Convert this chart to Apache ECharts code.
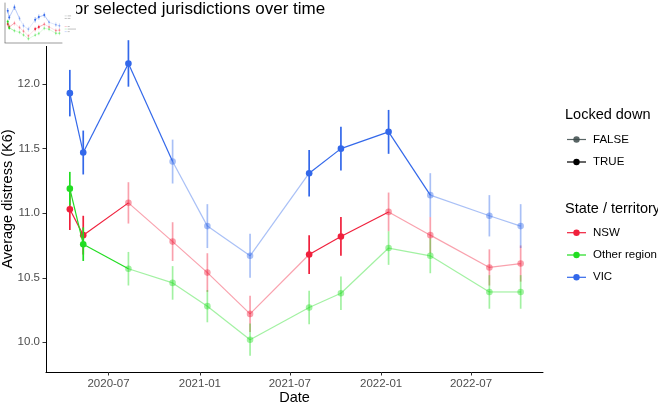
<!DOCTYPE html>
<html>
<head>
<meta charset="utf-8">
<script src="https://cdn.jsdelivr.net/npm/echarts@6/dist/echarts.min.js"></script>
<style>
  html, body { margin: 0; padding: 0; background: #fff; }
  #chart { width: 658px; height: 404px; }
</style>
</head>
<body>
<div id="chart"></div>
<script>
// survey waves
const dates = ['2020-04-14', '2020-05-11', '2020-08-10', '2020-11-07', '2021-01-16', '2021-04-12',
  '2021-08-09', '2021-10-12', '2022-01-16', '2022-04-10', '2022-08-07', '2022-10-09'];

// average K6 and half-width of the error bar
const nswValues = [11.03, 10.83, 11.08, 10.78, 10.54, 10.22, 10.68, 10.82, 11.01, 10.83, 10.58, 10.61];
const nswErr = [0.16, 0.15, 0.16, 0.15, 0.15, 0.14, 0.15, 0.15, 0.15, 0.14, 0.14, 0.14];
const otherValues = [11.19, 10.76, 10.57, 10.46, 10.28, 10.02, 10.27, 10.38, 10.73, 10.67, 10.39, 10.39];
const otherErr = [0.13, 0.13, 0.13, 0.13, 0.125, 0.125, 0.13, 0.13, 0.13, 0.135, 0.13, 0.13];
const vicValues = [11.93, 11.47, 12.16, 11.40, 10.90, 10.67, 11.31, 11.50, 11.63, 11.14, 10.98, 10.90];
const vicErr = [0.18, 0.17, 0.18, 0.17, 0.17, 0.17, 0.18, 0.17, 0.17, 0.17, 0.16, 0.17];

// locked down at that wave (1 = TRUE)
const nswLocked = [1, 1, 0, 0, 0, 0, 1, 1, 0, 0, 0, 0];
const otherLocked = [1, 1, 0, 0, 0, 0, 0, 0, 0, 0, 0, 0];
const vicLocked = [1, 1, 1, 0, 0, 0, 1, 1, 1, 0, 0, 0];

const xTicks = ['2020-07-01', '2021-01-01', '2021-07-01', '2022-01-01', '2022-07-01'];
const yTicks = [10.0, 10.5, 11.0, 11.5, 12.0];

const regions = ['NSW', 'Other region', 'VIC'];
const lockLabels = ['FALSE', 'TRUE'];

const colors = { 'NSW': '#F0203C', 'Other region': '#22DD22', 'VIC': '#3368EA' };
const lightAlpha = 0.42;
const font = '"Liberation Sans", Arial, sans-serif';

function ts(d) { return +new Date(d); }

const xMin = ts('2020-02-26');
const xMax = ts('2022-11-23');
const yMin = 9.77, yMax = 12.45;

function makeRenderer(values, errs, locks, color, s) {
  return function (params, api) {
    const i = params.dataIndex;
    const t = ts(dates[i]);
    const p = api.coord([t, values[i]]);
    const lo = api.coord([t, values[i] - errs[i]]);
    const hi = api.coord([t, values[i] + errs[i]]);
    const op = locks[i] ? 1 : lightAlpha;
    const children = [];
    if (i < dates.length - 1) {
      const q = api.coord([ts(dates[i + 1]), values[i + 1]]);
      children.push({
        type: 'line',
        shape: { x1: p[0], y1: p[1], x2: q[0], y2: q[1] },
        style: { stroke: color, lineWidth: 1.2 * s, opacity: op }
      });
    }
    children.push({
      type: 'line',
      shape: { x1: lo[0], y1: lo[1], x2: hi[0], y2: hi[1] },
      style: { stroke: color, lineWidth: 1.7 * s, opacity: op }
    });
    children.push({
      type: 'circle',
      shape: { cx: p[0], cy: p[1], r: 3.3 * s },
      style: { fill: color, opacity: op }
    });
    return { type: 'group', children: children };
  };
}

const regionData = {
  'NSW': [nswValues, nswErr, nswLocked],
  'Other region': [otherValues, otherErr, otherLocked],
  'VIC': [vicValues, vicErr, vicLocked]
};

const series = [];
regions.forEach(function (name) {
  const r = regionData[name];
  const data = dates.map(function (d, i) { return [ts(d), r[0][i]]; });
  series.push({
    name: name, type: 'custom', xAxisIndex: 0, yAxisIndex: 0,
    renderItem: makeRenderer(r[0], r[1], r[2], colors[name], 1),
    encode: { x: 0, y: 1 }, data: data, z: 2
  });
  // thumbnail copy in the corner
  series.push({
    name: name + ' (mini)', type: 'custom', xAxisIndex: 1, yAxisIndex: 1,
    renderItem: makeRenderer(r[0], r[1], r[2], colors[name], 0.3),
    encode: { x: 0, y: 1 }, data: data, z: 10, silent: true
  });
});

// legend drawn as graphic elements
const graphics = [
  { type: 'rect', shape: { x: 0, y: 0, width: 76, height: 46 }, style: { fill: '#fff' }, z: 9 }
];
function legendTitle(text, y) {
  graphics.push({ type: 'text', x: 565, y: y, style: { text: text, font: '14.5px ' + font, fill: '#000', verticalAlign: 'middle' } });
}
function legendItem(text, y, color, op) {
  graphics.push({ type: 'line', shape: { x1: 567, y1: y, x2: 586, y2: y }, style: { stroke: color, lineWidth: 1.2, opacity: op } });
  graphics.push({ type: 'circle', shape: { cx: 576.5, cy: y, r: 3.2 }, style: { fill: color, opacity: op } });
  graphics.push({ type: 'text', x: 593, y: y, style: { text: text, font: '11.5px ' + font, fill: '#000', verticalAlign: 'middle' } });
  // same key, shrunk, in the thumbnail
  const k = 0.114;
  graphics.push({ type: 'line', shape: { x1: 567 * k, y1: y * k, x2: 586 * k, y2: y * k }, style: { stroke: color, lineWidth: 0.4, opacity: op * 0.6 }, z: 10 });
  graphics.push({ type: 'line', shape: { x1: 593 * k, y1: y * k, x2: 593 * k + text.length * 0.7, y2: y * k }, style: { stroke: '#999', lineWidth: 0.6 }, z: 10 });
}
legendTitle('Locked down', 115);
legendItem(lockLabels[0], 139.5, '#3c4a4a', 0.85);
legendItem(lockLabels[1], 162, '#000', 1);
legendTitle('State / territory', 208.5);
regions.forEach(function (name, i) { legendItem(name, 232.7 + i * 22.3, colors[name], 1); });

function fmtMonth(v) {
  const d = new Date(v);
  return d.getUTCFullYear() + '-' + String(d.getUTCMonth() + 1).padStart(2, '0');
}

const chart = echarts.init(document.getElementById('chart'));
chart.setOption({
  animation: false,
  backgroundColor: '#fff',
  title: {
    text: 'Distress for selected jurisdictions over time',
    left: 3, top: 1, padding: 0,
    textStyle: { fontSize: 17, fontWeight: 'normal', fontFamily: font, color: '#000' }
  },
  grid: [
    { left: 46, right: 115, top: 26, bottom: 32, outerBoundsMode: 'none', containLabel: false },
    { left: 5, top: 3, width: 57, height: 39.5, outerBoundsMode: 'none', containLabel: false }
  ],
  xAxis: [{
    type: 'value', gridIndex: 0, min: xMin, max: xMax, scale: true,
    name: 'Date', nameLocation: 'middle', nameGap: 18, nameMoveOverlap: false,
    nameTextStyle: { fontSize: 14.5, fontFamily: font, color: '#000' },
    axisLine: { lineStyle: { color: '#000', width: 1 } },
    axisTick: { show: true, length: 3.5, lineStyle: { color: '#333' }, customValues: xTicks.map(ts) },
    axisLabel: {
      fontSize: 11.5, fontFamily: font, color: '#4d4d4d', margin: 6,
      customValues: xTicks.map(ts),
      formatter: fmtMonth
    },
    splitLine: { show: false }
  }, {
    type: 'value', gridIndex: 1, min: xMin, max: xMax, scale: true, z: 10,
    axisLine: { lineStyle: { color: '#000', width: 0.4 } },
    axisTick: { show: false }, axisLabel: { show: false }, splitLine: { show: false }
  }],
  yAxis: [{
    type: 'value', gridIndex: 0, min: yMin, max: yMax,
    name: 'Average distress (K6)', nameLocation: 'middle', nameGap: 31, nameMoveOverlap: false,
    nameTextStyle: { fontSize: 14.5, fontFamily: font, color: '#000' },
    axisLine: { show: true, lineStyle: { color: '#000', width: 1 } },
    axisTick: { show: true, length: 3.5, lineStyle: { color: '#333' }, customValues: yTicks },
    axisLabel: {
      fontSize: 11.5, fontFamily: font, color: '#4d4d4d', margin: 6,
      customValues: yTicks,
      formatter: function (v) { return v.toFixed(1); }
    },
    splitLine: { show: false }
  }, {
    type: 'value', gridIndex: 1, min: yMin, max: yMax, z: 10,
    axisLine: { show: true, lineStyle: { color: '#000', width: 0.4 } },
    axisTick: { show: false }, axisLabel: { show: false }, splitLine: { show: false }
  }],
  graphic: graphics,
  series: series
});
</script>
</body>
</html>
